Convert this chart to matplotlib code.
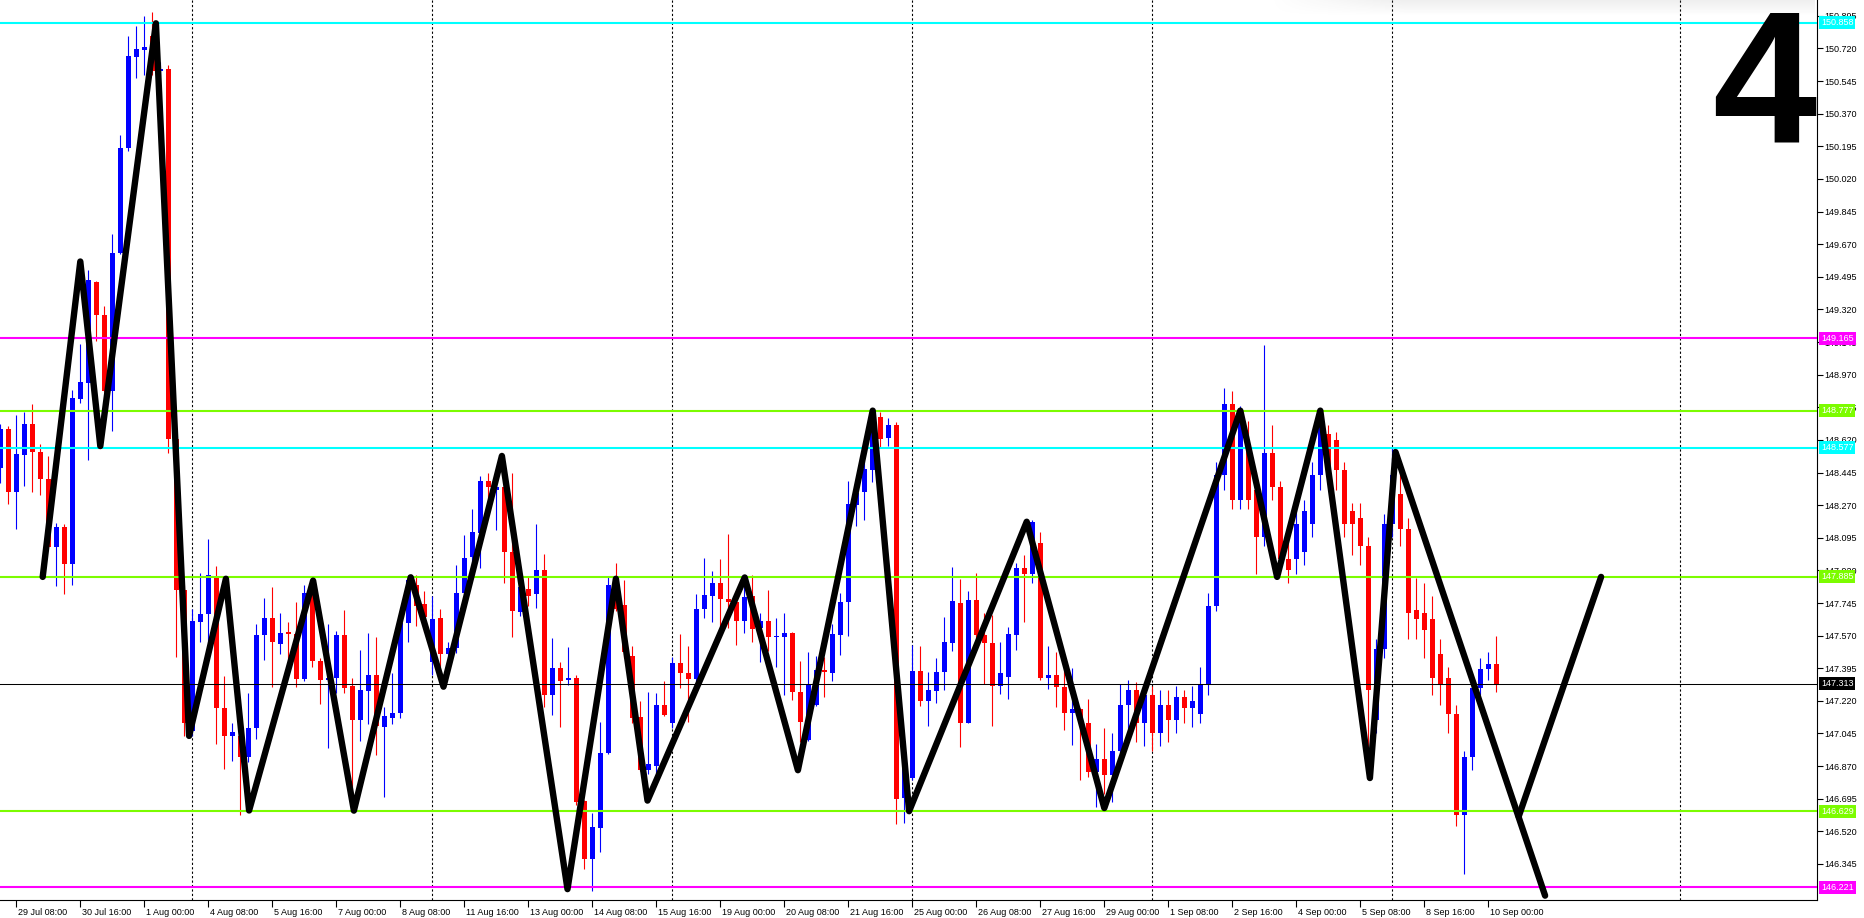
import matplotlib
matplotlib.use("Agg")
import numpy as np
import matplotlib.pyplot as plt
import matplotlib.transforms as mtransforms

plt.rcParams['font.family'] = ['Liberation Sans', 'DejaVu Sans']

# ─── H4 candles (bar index = position) ───────────────────────────────────────
opens = [148.471, 148.681, 148.338, 148.541, 148.705, 148.557, 148.408, 148.048, 148.151, 147.956,
         148.841, 148.927, 149.467, 149.292, 148.882, 149.625, 150.186, 150.676, 150.713, 150.785,
         150.60, 150.611, 148.623, 147.813, 147.06, 147.643, 147.686, 147.884, 147.183, 147.032,
         147.03, 146.919, 147.075, 147.572, 147.663, 147.526, 147.59, 147.58, 147.339, 147.827,
         147.436, 147.33, 147.341, 147.573, 147.302, 147.117, 147.274, 147.359, 147.082, 147.13,
         147.157, 147.636, 147.842, 147.74, 147.430, 147.663, 147.47, 147.502, 147.797, 147.99,
         148.12, 148.399, 148.35, 148.369, 148.02, 147.699, 147.820, 147.791, 147.922, 147.251,
         147.394, 147.33, 147.345, 146.682, 146.37, 146.536, 146.939, 147.868, 147.734, 147.461,
         147.135, 146.849, 146.87, 147.198, 147.103, 147.421, 147.368, 147.335, 147.713, 147.784,
         147.851, 147.767, 147.749, 147.65, 147.782, 147.61, 147.648, 147.563, 147.564, 147.582,
         147.27, 147.010, 147.198, 147.386, 147.371, 147.573, 147.752, 148.271, 148.342, 148.458,
         148.741, 148.628, 148.700, 146.697, 146.804, 147.38, 147.221, 147.275, 147.377, 147.532,
         147.743, 147.103, 147.761, 147.573, 147.53, 147.301, 147.350, 147.573, 147.931, 147.901,
         148.069, 147.345, 147.359, 147.296, 147.153, 147.176, 147.10, 146.84, 146.908, 146.82,
         146.95, 147.20, 147.28, 147.10, 147.25, 147.05, 147.20, 147.12, 147.24, 147.18,
         147.15, 147.31, 147.73, 148.43, 148.81, 148.30, 148.60, 148.35, 148.10, 148.55,
         148.37, 147.98, 147.98, 148.02, 148.17, 148.43, 148.65, 148.62, 148.46, 148.24,
         148.20, 148.05, 147.12, 147.50, 148.17, 148.33, 148.14, 147.71, 147.69, 147.66,
         147.47, 147.34, 147.15, 146.61, 146.92, 147.29, 147.39, 147.42]
highs = [148.705, 148.697, 148.753, 148.769, 148.810, 148.599, 148.531, 148.174, 148.167, 148.886,
         149.136, 149.531, 149.475, 149.338, 149.724, 150.257, 150.785, 150.840, 150.894, 150.918,
         150.65, 150.633, 148.64, 147.84, 147.714, 147.907, 148.089, 147.941, 147.353, 147.103,
         147.04, 147.260, 147.634, 147.771, 147.833, 147.694, 147.643, 147.751, 147.842, 147.86,
         147.45, 147.632, 147.595, 147.707, 147.345, 147.493, 147.586, 147.564, 147.189, 147.371,
         147.654, 147.895, 147.895, 147.809, 147.783, 147.713, 147.537, 147.949, 148.110, 148.249,
         148.426, 148.441, 148.405, 148.44, 148.441, 147.88, 147.886, 148.169, 148.008, 147.556,
         147.430, 147.507, 147.359, 146.69, 146.620, 147.105, 147.892, 147.958, 147.868, 147.514,
         147.219, 147.266, 147.260, 147.328, 147.454, 147.579, 147.514, 147.793, 147.985, 147.917,
         147.981, 148.115, 147.78, 147.877, 147.895, 147.690, 147.815, 147.663, 147.69, 147.588,
         147.434, 147.480, 147.461, 147.457, 147.631, 147.797, 148.400, 148.351, 148.509, 148.780,
         148.772, 148.736, 148.718, 146.97, 147.520, 147.514, 147.377, 147.452, 147.672, 147.940,
         147.874, 147.809, 147.904, 147.69, 147.681, 147.536, 147.618, 147.958, 148.003, 148.19,
         148.128, 147.516, 147.480, 147.395, 147.395, 147.18, 147.230, 146.989, 147.073, 147.05,
         147.31, 147.33, 147.32, 147.30, 147.30, 147.28, 147.28, 147.30, 147.28, 147.30,
         147.40, 147.80, 148.50, 148.90, 148.88, 148.80, 148.72, 148.45, 149.13, 148.70,
         148.40, 148.10, 148.25, 148.30, 148.50, 148.78, 148.70, 148.66, 148.50, 148.28,
         148.28, 148.10, 147.55, 148.22, 148.58, 148.45, 148.20, 147.88, 147.85, 147.78,
         147.55, 147.40, 147.20, 146.95, 147.32, 147.45, 147.48, 147.57]
lows = [148.389, 148.278, 148.143, 148.373, 148.338, 148.326, 148.044, 147.835, 147.792, 147.843,
        148.820, 148.510, 149.153, 148.876, 148.670, 149.617, 150.169, 150.559, 150.580, 150.58,
        150.57, 148.552, 147.458, 147.03, 147.03, 147.538, 147.529, 146.990, 146.853, 146.899,
        146.606, 146.890, 147.018, 147.441, 147.297, 147.470, 147.430, 147.297, 147.325, 147.40,
        147.203, 146.965, 147.260, 147.260, 146.65, 147.005, 147.096, 146.930, 146.706, 147.096,
        147.126, 147.534, 147.623, 147.591, 147.359, 147.377, 147.44, 147.475, 147.78, 147.94,
        147.931, 148.226, 148.137, 147.851, 147.564, 147.677, 147.73, 147.720, 147.189, 147.144,
        147.078, 147.305, 146.66, 146.318, 146.202, 146.411, 146.935, 147.70, 147.45, 147.100,
        146.845, 146.826, 146.83, 147.14, 147.073, 147.287, 147.108, 147.32, 147.666, 147.645,
        147.609, 147.609, 147.520, 147.582, 147.538, 147.430, 147.49, 147.404, 147.25, 147.225,
        147.001, 147.005, 147.19, 147.243, 147.327, 147.466, 147.568, 148.160, 148.190, 148.396,
        148.575, 148.587, 146.558, 146.566, 146.795, 147.194, 147.087, 147.210, 147.278, 147.489,
        146.974, 147.10, 147.55, 147.310, 147.087, 147.257, 147.230, 147.493, 147.645, 147.851,
        147.332, 147.284, 147.185, 147.064, 146.983, 146.795, 146.813, 146.649, 146.72, 146.68,
        146.90, 147.05, 147.00, 146.98, 146.95, 146.98, 147.00, 147.05, 147.10, 147.08,
        147.10, 147.25, 147.70, 148.35, 148.25, 148.25, 148.25, 147.90, 148.05, 148.30,
        147.90, 147.85, 147.90, 147.95, 148.10, 148.35, 148.40, 148.35, 148.10, 148.00,
        147.95, 146.82, 147.05, 147.45, 148.10, 148.05, 147.55, 147.55, 147.45, 147.25,
        147.20, 147.05, 146.55, 146.29, 146.85, 147.25, 147.33, 147.27]
closes = [148.681, 148.338, 148.547, 148.705, 148.557, 148.408, 148.048, 148.151, 147.956, 148.845,
          148.931, 149.477, 149.292, 148.882, 149.625, 150.186, 150.678, 150.717, 150.727, 150.60,
          150.61, 148.623, 147.813, 147.10, 147.651, 147.686, 147.893, 147.183, 147.032, 147.055,
          146.919, 147.075, 147.572, 147.663, 147.535, 147.583, 147.58, 147.339, 147.799, 147.436,
          147.331, 147.34, 147.573, 147.291, 147.117, 147.278, 147.359, 147.087, 147.139, 147.153,
          147.636, 147.868, 147.731, 147.672, 147.659, 147.470, 147.502, 147.797, 147.985, 148.124,
          148.399, 148.369, 148.37, 148.020, 147.702, 147.833, 147.784, 147.922, 147.251, 147.394,
          147.328, 147.345, 146.679, 146.370, 146.545, 146.939, 147.842, 147.711, 147.480, 147.130,
          146.849, 146.881, 147.198, 147.144, 147.421, 147.368, 147.335, 147.713, 147.788, 147.851,
          147.765, 147.749, 147.650, 147.779, 147.606, 147.648, 147.564, 147.568, 147.582, 147.269,
          147.108, 147.310, 147.386, 147.373, 147.579, 147.752, 148.276, 148.333, 148.462, 148.664,
          148.625, 148.700, 146.692, 146.912, 147.380, 147.221, 147.278, 147.373, 147.536, 147.756,
          147.103, 147.761, 147.573, 147.532, 147.301, 147.368, 147.579, 147.931, 147.901, 148.181,
          147.345, 147.359, 147.293, 147.153, 147.176, 147.100, 146.840, 146.908, 146.822, 146.95,
          147.20, 147.28, 147.10, 147.25, 147.05, 147.20, 147.12, 147.24, 147.18, 147.22,
          147.31, 147.73, 148.43, 148.81, 148.30, 148.72, 148.30, 148.10, 148.55, 148.37,
          147.98, 147.92, 148.17, 148.24, 148.43, 148.75, 148.46, 148.46, 148.17, 148.17,
          148.05, 147.28, 147.50, 148.17, 148.43, 148.14, 147.69, 147.66, 147.60, 147.34,
          147.31, 147.15, 146.61, 146.92, 147.29, 147.39, 147.42, 147.313]

# ─── zigzag (bar, price) ─────────────────────────────────────────────────────
zz_bars = [5.3, 10.0, 12.5, 19.45, 23.6, 28.2, 31.1, 39.1, 44.2, 51.3, 55.4, 62.7, 70.9, 76.95,
           80.9, 93.05, 99.7, 109.05, 113.6, 128.3, 138.0, 155.0, 159.6, 165.0, 171.2, 174.4, 193.1]
zz_prices = [147.885, 149.577, 148.587, 150.855, 147.032, 147.875, 146.632, 147.865, 146.631,
             147.883, 147.296, 148.534, 146.21, 147.875, 146.685, 147.882, 146.848, 148.777,
             146.628, 148.181, 146.645, 148.777, 147.885, 148.777, 146.806, 148.555, 146.175]
zz2_bars = [189.8, 200.1]
zz2_prices = [146.60, 147.885]

# ─── horizontal levels ───────────────────────────────────────────────────────
level_prices = [150.858, 149.165, 148.777, 148.577, 147.885, 146.629, 146.221]
level_colors = ['#00FFFF', '#FF00FF', '#7CFC00', '#00FFFF', '#7CFC00', '#7CFC00', '#FF00FF']
current_price = 147.313

separator_bars = [24, 54, 84, 114, 144, 174, 210]

tick_bars = [2, 10, 18, 26, 34, 42, 50, 58, 66, 74, 82, 90, 98, 106, 114, 122, 130, 138, 146,
             154, 162, 170, 178, 186]
tick_labels = ["29 Jul 08:00", "30 Jul 16:00", "1 Aug 00:00", "4 Aug 08:00", "5 Aug 16:00",
               "7 Aug 00:00", "8 Aug 08:00", "11 Aug 16:00", "13 Aug 00:00", "14 Aug 08:00",
               "15 Aug 16:00", "19 Aug 00:00", "20 Aug 08:00", "21 Aug 16:00", "25 Aug 00:00",
               "26 Aug 08:00", "27 Aug 16:00", "29 Aug 00:00", "1 Sep 08:00", "2 Sep 16:00",
               "4 Sep 00:00", "5 Sep 08:00", "8 Sep 16:00", "10 Sep 00:00"]
price_ticks = [150.895, 150.720, 150.545, 150.370, 150.195, 150.020, 149.845, 149.670, 149.495,
               149.320, 149.145, 148.970, 148.795, 148.620, 148.445, 148.270, 148.095, 147.920,
               147.745, 147.570, 147.395, 147.220, 147.045, 146.870, 146.695, 146.520, 146.345]

W, H = 1865, 918
PX_PER_BAR = 8.0
PX_PER_PRICE = 186.4
TOP_PRICE = 150.980

fig = plt.figure(figsize=(W / 100, H / 100), dpi=100)
fig.patch.set_facecolor('white')
ax = fig.add_axes([0, 18 / H, 1817 / W, 900 / H])
ax.set_facecolor('white')
ax.set_xlim(-0.3 / PX_PER_BAR, (1817 - 0.3) / PX_PER_BAR)
ax.set_ylim(TOP_PRICE - 900 / PX_PER_PRICE, TOP_PRICE)

# ─── candles ─────────────────────────────────────────────────────────────────
o, hi, lo, c = (np.array(a) for a in (opens, highs, lows, closes))
idx = np.arange(len(o))
cols = np.where(c >= o, '#0000FF', '#FF0000')
ax.vlines(idx, lo, hi, colors=cols, lw=0.8, zorder=2)
body_h = np.maximum(np.abs(c - o), 1.0 / PX_PER_PRICE)
ax.bar(idx, body_h, bottom=np.minimum(o, c), width=0.625, color=cols, lw=0, zorder=2)

# ─── separators, levels, zigzag ──────────────────────────────────────────────
for b in separator_bars:
    ax.axvline(b, color='black', lw=0.8, ls=(0, (2, 2)), zorder=1)

for v, col in zip(level_prices, level_colors):
    ax.axhline(v, color=col, lw=1.5, zorder=3)
ax.axhline(current_price, color='black', lw=0.75, zorder=3)

zz_kw = dict(color='black', lw=4.6, solid_capstyle='round', solid_joinstyle='round', zorder=4)
ax.plot(zz_bars, zz_prices, **zz_kw)
ax.plot(zz2_bars, zz2_prices, **zz_kw)

# ─── axes styling ────────────────────────────────────────────────────────────
for s in ('left', 'top'):
    ax.spines[s].set_visible(False)
for s in ('right', 'bottom'):
    ax.spines[s].set_linewidth(0.8)
    ax.spines[s].set_color('black')

ax.yaxis.tick_right()
ax.set_yticks(price_ticks)
ax.set_yticklabels([f"{v:.3f}" for v in price_ticks])
ax.tick_params(axis='y', direction='out', length=4, width=0.8, pad=1.5, labelsize=6.5)

ax.set_xticks(tick_bars)
ax.set_xticklabels(tick_labels)
ax.tick_params(axis='x', direction='out', length=5, width=0.8, pad=1, labelsize=6.5)
shift = mtransforms.ScaledTranslation(2 / 100, 0, fig.dpi_scale_trans)
for lab in ax.get_xticklabels():
    lab.set_ha('left')
    lab.set_transform(lab.get_transform() + shift)

# price tags on the right scale
for v, col in list(zip(level_prices, level_colors)) + [(current_price, 'black')]:
    ax.annotate(f"{v:.3f}", xy=(1, v), xycoords=('axes fraction', 'data'),
                xytext=(4, 0), textcoords='offset pixels', ha='left', va='center',
                fontsize=6.5, color='white', annotation_clip=False, zorder=6,
                bbox=dict(boxstyle='square,pad=0.22', fc=col, ec='none'))

# faint grey shade along the top edge (right part of the chart)
shade = fig.add_axes([1270 / W, 1 - 16 / H, 545 / W, 16 / H], zorder=0.5)
gy = np.linspace(1, 0, 16)[:, None]
gx = np.clip(np.linspace(0, 4, 545), 0, 1)[None, :]
rgba = np.zeros((16, 545, 4))
rgba[..., :3] = 0.55
rgba[..., 3] = 0.14 * gy * gx
shade.imshow(rgba, aspect='auto', interpolation='bilinear')
shade.set_axis_off()

fig.text(1764 / W, 1 - 141 / H, "4", fontsize=135, fontweight='bold',
         ha='center', va='baseline', color='black', zorder=5)

fig.savefig("out.png", dpi=100, facecolor='white')
